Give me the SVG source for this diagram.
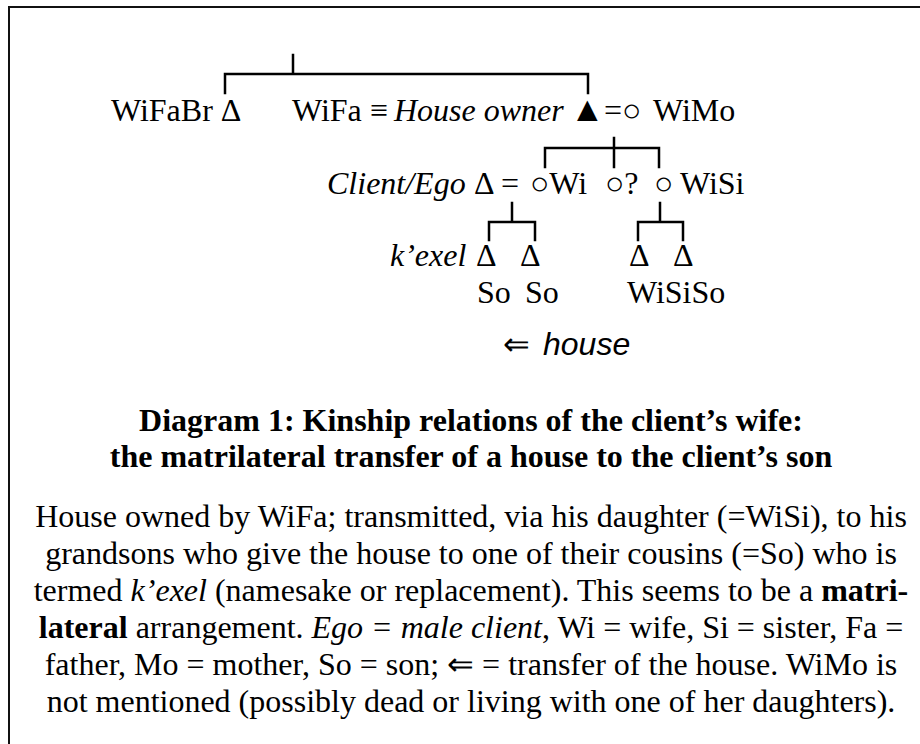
<svg xmlns="http://www.w3.org/2000/svg" width="920" height="744" viewBox="0 0 920 744">
<style>
.t{font-family:"Liberation Serif","DejaVu Serif",serif;font-size:32px;fill:#000}
.i{font-style:italic}
.b{font-weight:bold}
.s{font-family:"Liberation Sans","DejaVu Sans",sans-serif;font-style:italic}
.ar{font-family:"DejaVu Sans",sans-serif;font-weight:200}
.tri{font-size:35px}
.ln{stroke:#000;stroke-width:2.5;fill:none;stroke-linecap:square}
.mid{text-anchor:middle}
</style>
<rect x="0" y="0" width="920" height="744" fill="#fff"/>
<path d="M9,750 V7 H930" fill="none" stroke="#111" stroke-width="2"/>
<g id="connectors" class="ln">
<path d="M293,55 V74 M225,93 V74 H588 V93"/>
<path d="M614,138 V167 M545,167 V148 H659 V167"/>
<path d="M512,203 V222 M489,240 V222 H535 V240"/>
<path d="M660,203 V222 M638,240 V222 H683 V240"/>
</g>
<g id="node-wifabr"><text class="t" x="111" y="121">WiFaBr Δ</text></g>
<g id="node-wifa"><text class="t" x="292" y="121">WiFa ≡ <tspan class="i" x="394">House owner</tspan></text><text class="t tri" x="570" y="121">▲</text><text class="t" x="604" y="121">=○</text></g>
<g id="node-wimo"><text class="t" x="653" y="121">WiMo</text></g>
<g id="node-client"><text class="t" y="194"><tspan class="i" x="327">Client/Ego</tspan><tspan x="474">Δ</tspan><tspan x="501">=</tspan></text></g>
<g id="node-wi"><text class="t" x="530" y="194">○Wi</text></g>
<g id="node-unknown"><text class="t" x="605" y="194">○?</text></g>
<g id="node-wisi"><text class="t" y="194"><tspan x="654">○</tspan><tspan x="680">WiSi</tspan></text></g>
<g id="node-so1"><text class="t" y="266"><tspan class="i" x="390">k’exel</tspan><tspan x="476">Δ</tspan></text><text class="t" x="477" y="303">So</text></g>
<g id="node-so2"><text class="t" x="520" y="266">Δ</text><text class="t" x="525" y="303">So</text></g>
<g id="node-wisiso"><text class="t" y="266"><tspan x="629">Δ</tspan><tspan x="673">Δ</tspan></text><text class="t" x="627" y="303">WiSiSo</text></g>
<g id="house"><text class="t" x="503" y="355"><tspan class="ar">⇐</tspan><tspan class="s" x="543">house</tspan></text></g>
<g id="caption">
<text class="t b mid" x="471" y="431">Diagram 1: Kinship relations of the client’s wife:</text>
<text class="t b mid" x="471" y="467">the matrilateral transfer of a house to the client’s son</text>
</g>
<g id="description">
<text class="t mid" x="471" y="527">House owned by WiFa; transmitted, via his daughter (=WiSi), to his</text>
<text class="t mid" x="471" y="564">grandsons who give the house to one of their cousins (=So) who is</text>
<text class="t mid" x="471" y="601">termed <tspan class="i">k’exel</tspan> (namesake or replacement). This seems to be a <tspan class="b">matri-</tspan></text>
<text class="t mid" x="471" y="638"><tspan class="b">lateral</tspan> arrangement. <tspan class="i">Ego = male client</tspan>, Wi = wife, Si = sister, Fa =</text>
<text class="t mid" x="471" y="675">father, Mo = mother, So = son; <tspan class="ar">⇐</tspan> = transfer of the house. WiMo is</text>
<text class="t mid" x="471" y="712">not mentioned (possibly dead or living with one of her daughters).</text>
</g>
</svg>
